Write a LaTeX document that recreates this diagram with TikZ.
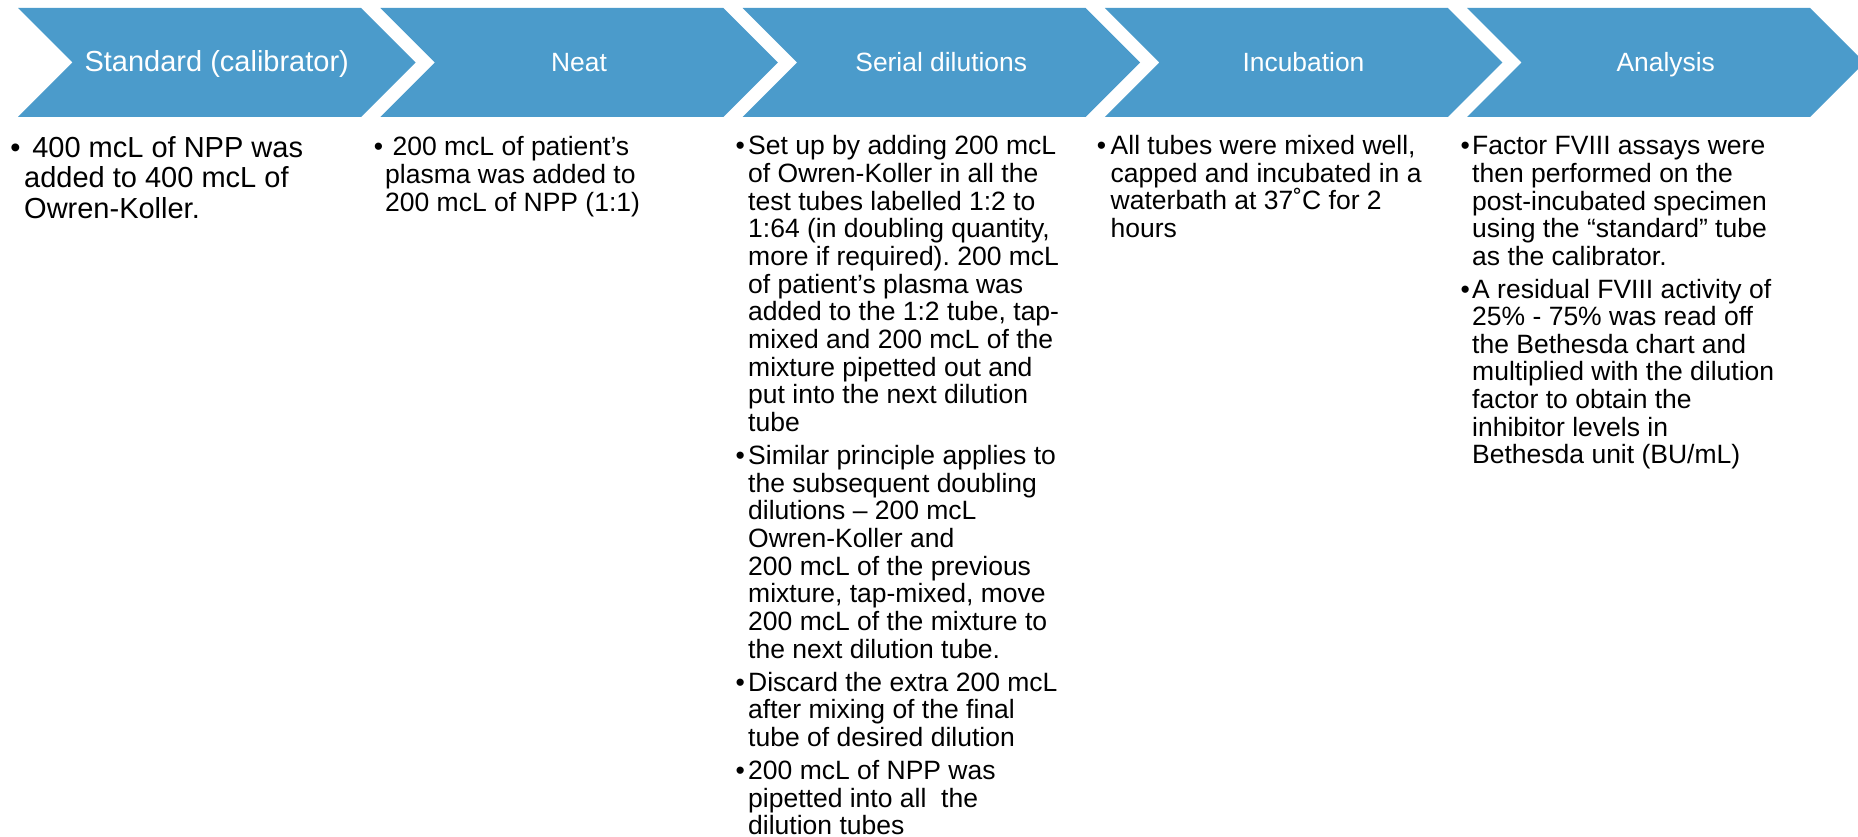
\documentclass[tikz,border=0pt]{standalone}
\usepackage{fontspec}
\setmainfont{Liberation Sans}
\frenchspacing
\definecolor{chev}{HTML}{4B9BCB}
\newcommand\bodyparA[1]{\parbox[t]{400pt}{\raggedright\fontsize{29}{30.3}\selectfont #1}}
\newcommand\bodyparB[1]{\parbox[t]{400pt}{\raggedright\fontsize{26.5}{27.65}\selectfont #1}}
\tikzset{
  chevshape/.style={fill=chev, draw=none},
  headA/.style={text=white, anchor=base, inner sep=0pt, font=\fontsize{29}{32}\selectfont},
  headB/.style={text=white, anchor=base, inner sep=0pt, font=\fontsize{26.4}{30}\selectfont},
  bodyitem/.style={anchor=base west, inner sep=0pt},
  bulA/.style={anchor=base west, inner sep=0pt, font=\fontsize{29}{30}\selectfont},
  bulB/.style={anchor=base west, inner sep=0pt, font=\fontsize{26.5}{28}\selectfont},
}
\begin{document}
\begin{tikzpicture}[x=1pt,y=-1pt]
\useasboundingbox (0,0) rectangle (1858,837);
\clip (0,0) rectangle (1858,837);
\foreach \i in {0,...,4}{
  \pgfmathsetmacro\xl{18+\i*362.25}
  \fill[chevshape] (\xl,8) -- ++(343,0) -- ++(54.5,54.5) -- ++(-54.5,54.5) -- ++(-343,0) -- ++(54.5,-54.5) -- cycle;
}
% headers
\node[headA] (h1) at (216.75,71.5) {Standard (calibrator)};
\node[headB] (h2) at (579,71.5) {Neat};
\node[headB] (h3) at (941.25,71.5) {Serial dilutions};
\node[headB] (h4) at (1303.5,71.5) {Incubation};
\node[headB] (h5) at (1665.75,71.5) {Analysis};
% column 1
\node[bulA] (b1a) at (10.2,157.5) {•};
\node[bodyitem] (t1a) at (24,157.5) {\bodyparA{\hspace*{0.278em}400 mcL of NPP was\\added to 400 mcL of\\Owren-Koller.}};
% column 2
\node[bulB] (b2a) at (373.7,156) {•};
\node[bodyitem] (t2a) at (385,156) {\parbox[t]{400pt}{\raggedright\fontsize{26.5}{27.8}\selectfont\hspace*{0.278em}200 mcL of patient’s\\plasma was added to\\200 mcL of NPP (1:1)}};
% column 3
\node[bulB] (b3a) at (735.4,155) {•};
\node[bodyitem] (t3a) at (748,155) {\bodyparB{Set up by adding 200 mcL\\of Owren-Koller in all the\\test tubes labelled 1:2 to\\1:64 (in doubling quantity,\\more if required). 200 mcL\\of patient’s plasma was\\added to the 1:2 tube, tap-\\mixed and 200 mcL of the\\mixture pipetted out and\\put into the next dilution\\tube}};
\node[bulB] (b3b) at (735.4,464.5) {•};
\node[bodyitem] (t3b) at (748,464.5) {\bodyparB{Similar principle applies to\\the subsequent doubling\\dilutions – 200 mcL\\Owren-Koller and\\200 mcL of the previous\\mixture, tap-mixed, move\\200 mcL of the mixture to\\the next dilution tube.}};
\node[bulB] (b3c) at (735.4,691.3) {•};
\node[bodyitem] (t3c) at (748,691.3) {\bodyparB{Discard the extra 200 mcL\\after mixing of the final\\tube of desired dilution}};
\node[bulB] (b3d) at (735.4,779.6) {•};
\node[bodyitem] (t3d) at (748,779.6) {\bodyparB{200 mcL of NPP was\\pipetted into all \ the\\dilution tubes}};
% column 4
\node[bulB] (b4a) at (1096.7,154.5) {•};
\node[bodyitem] (t4a) at (1110.5,154.5) {\bodyparB{All tubes were mixed well,\\capped and incubated in a\\waterbath at 37˚C for 2\\hours}};
% column 5
\node[bulB] (b5a) at (1460.4,155) {•};
\node[bodyitem] (t5a) at (1472,155) {\bodyparB{Factor FVIII assays were\\then performed on the\\post-incubated specimen\\using the “standard” tube\\as the calibrator.}};
\node[bulB] (b5b) at (1460.4,298) {•};
\node[bodyitem] (t5b) at (1472,298) {\bodyparB{A residual FVIII activity of\\25\% - 75\% was read off\\the Bethesda chart and\\multiplied with the dilution\\factor to obtain the\\inhibitor levels in\\Bethesda unit (BU/mL)}};
\end{tikzpicture}
\end{document}
